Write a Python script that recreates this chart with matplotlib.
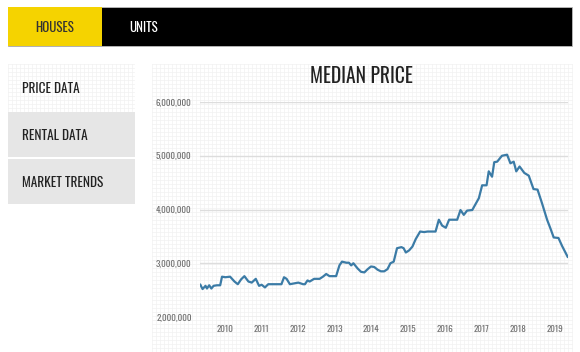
import matplotlib
matplotlib.use("Agg")
import matplotlib.pyplot as plt
from matplotlib.patches import Rectangle
from matplotlib.ticker import FuncFormatter

plt.rcParams['font.family'] = ['Oswald', 'Roboto Condensed', 'Liberation Sans Narrow', 'DejaVu Sans']

# data (decimal year, median price in millions)
years = [2009.34, 2009.40, 2009.48, 2009.52, 2009.58, 2009.64, 2009.70, 2009.79, 2009.88,
         2009.93, 2010.02, 2010.15, 2010.27, 2010.36, 2010.45, 2010.54, 2010.65, 2010.74,
         2010.85, 2010.94, 2011.01, 2011.10, 2011.19, 2011.55, 2011.62, 2011.69, 2011.78,
         2012.01, 2012.14, 2012.19, 2012.26, 2012.32, 2012.44, 2012.59, 2012.68, 2012.77,
         2012.86, 2013.04, 2013.13, 2013.20, 2013.32, 2013.39, 2013.45, 2013.51, 2013.63,
         2013.72, 2013.81, 2013.90, 2013.99, 2014.08, 2014.17, 2014.26, 2014.35, 2014.44,
         2014.52, 2014.61, 2014.70, 2014.82, 2014.88, 2014.94, 2015.03, 2015.12, 2015.21,
         2015.33, 2015.44, 2015.53, 2015.75, 2015.84, 2015.93, 2016.03, 2016.12, 2016.34,
         2016.43, 2016.52, 2016.61, 2016.75, 2016.93, 2017.02, 2017.14, 2017.20, 2017.29,
         2017.35, 2017.43, 2017.56, 2017.70, 2017.79, 2017.88, 2017.95, 2018.04, 2018.17,
         2018.29, 2018.42, 2018.53, 2018.65, 2018.79, 2018.88, 2018.97, 2019.10, 2019.20,
         2019.35]
price_m = [2.60, 2.52, 2.58, 2.53, 2.59, 2.53, 2.58, 2.59, 2.59,
           2.75, 2.74, 2.75, 2.66, 2.61, 2.70, 2.76, 2.66, 2.64,
           2.71, 2.58, 2.60, 2.55, 2.61, 2.61, 2.74, 2.71, 2.61,
           2.64, 2.61, 2.61, 2.68, 2.66, 2.71, 2.71, 2.75, 2.80,
           2.76, 2.76, 2.96, 3.03, 3.01, 3.01, 2.96, 3.00, 2.90,
           2.84, 2.83, 2.89, 2.94, 2.93, 2.88, 2.85, 2.85, 2.89,
           3.00, 3.03, 3.28, 3.30, 3.28, 3.20, 3.24, 3.31, 3.45,
           3.59, 3.58, 3.59, 3.59, 3.81, 3.70, 3.66, 3.81, 3.81,
           3.99, 3.90, 3.98, 3.99, 4.21, 4.45, 4.45, 4.71, 4.61,
           4.88, 4.89, 5.00, 5.02, 4.86, 4.89, 4.71, 4.80, 4.68,
           4.63, 4.38, 4.37, 4.12, 3.81, 3.65, 3.48, 3.47, 3.32,
           3.12]
prices = [p * 1e6 for p in price_m]

tabs = ["HOUSES", "UNITS"]
menu = ["PRICE DATA", "RENTAL DATA", "MARKET TRENDS"]
year_ticks = list(range(2010, 2020))
price_ticks = [2e6, 3e6, 4e6, 5e6, 6e6]

W, H = 580, 352
fig = plt.figure(figsize=(W / 100, H / 100), dpi=100)
fig.patch.set_facecolor("white")

# page layer in pixel coords
bg = fig.add_axes([0, 0, 1, 1])
bg.set_xlim(0, W)
bg.set_ylim(H, 0)
bg.axis("off")

# faint texture behind menu and chart panels
def texture(x0, y0, x1, y1):
    x = x0
    while x <= x1:
        bg.plot([x, x], [y0, y1], color="#f1f1f1", lw=0.5, zorder=0)
        x += 4
    y = y0
    while y <= y1:
        bg.plot([x0, x1], [y, y], color="#f1f1f1", lw=0.5, zorder=0)
        y += 4

texture(8, 64, 134, 111)
texture(152, 64, 572, 352)

# tab bar
bg.add_patch(Rectangle((8, 7), 564, 39, facecolor="black", edgecolor="#bbbbbb", lw=0.6))
bg.add_patch(Rectangle((8, 7), 94, 39, facecolor="#f5d300", edgecolor="none"))
bg.text(55, 28, tabs[0], ha="center", va="center", fontsize=9.3, color="#333333")
bg.text(129, 28, tabs[1], ha="left", va="center", fontsize=9.3, color="white")

# side menu
boxes = [(64, 111, None), (112, 157, "#e6e6e6"), (159, 204, "#e6e6e6")]
for label, (y0, y1, fc) in zip(menu, boxes):
    if fc:
        bg.add_patch(Rectangle((8, y0), 127, y1 - y0, facecolor=fc, edgecolor="none"))
    bg.text(22, (y0 + y1) / 2 + 1, label, ha="left", va="center", fontsize=9.6, color="#222222")

bg.text(361, 76, "MEDIAN PRICE", ha="center", va="center", fontsize=14, color="#222222")

# chart
ax = fig.add_axes([200 / W, 1 - 317 / H, 368 / W, 215 / H])
ax.patch.set_alpha(0)
ax.plot(years, prices, color="#3b7ba6", lw=1.6, zorder=3)
ax.set_xlim(2009.33, 2019.36)
ax.set_ylim(2e6, 6e6)
ax.set_yticks(price_ticks)
ax.yaxis.set_major_formatter(FuncFormatter(lambda v, p: f"{int(v):,}"))
ax.set_xticks(year_ticks)
ax.set_xticklabels([str(y) for y in year_ticks])
ax.grid(axis="y", color="#dddddd", lw=1)
ax.tick_params(length=0, labelsize=6.5, colors="#707070", pad=6)
for s in ax.spines.values():
    s.set_visible(False)

fig.savefig("out.png", dpi=100)
